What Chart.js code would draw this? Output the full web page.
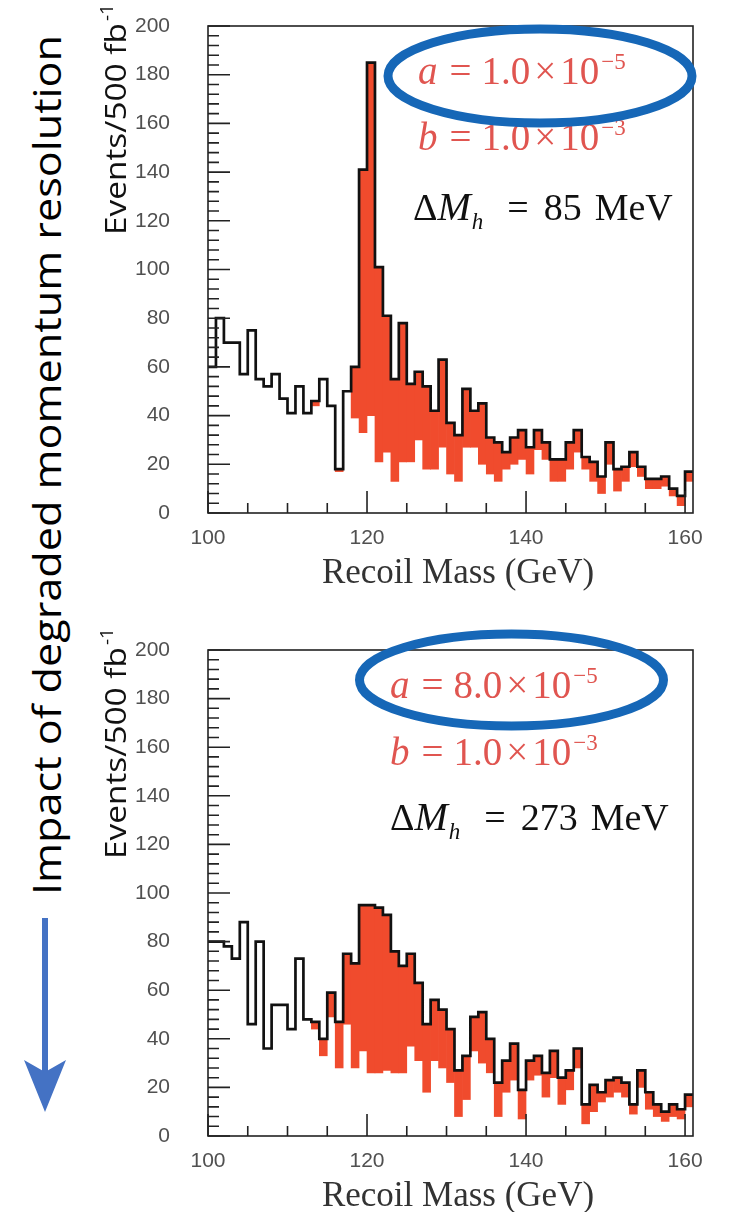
<!DOCTYPE html>
<html>
<head>
<meta charset="utf-8">
<script src="https://cdn.jsdelivr.net/npm/chart.js@4.4.1/dist/chart.umd.min.js"></script>
<style>
  body { margin: 0; background: #fff; }
  #page { position: relative; width: 733px; height: 1212px; overflow: hidden; }
  #page canvas { position: absolute; left: 0; }
  #top-chart { top: 0; }
  #bottom-chart { top: 612px; }
  #side { position: absolute; left: 0; top: 0; }
</style>
</head>
<body>
<div id="page">
  <svg id="side" width="110" height="1212">
    <text transform="translate(61,465) rotate(-90)" text-anchor="middle" font-family="Open Sans" font-size="39"
          textLength="860" lengthAdjust="spacingAndGlyphs" fill="#000">Impact of degraded momentum resolution</text>
    <line x1="45" y1="918" x2="45" y2="1076" stroke="#4472c4" stroke-width="6"/>
    <path d="M45 1112 L24 1060 L45 1072 L66 1060 Z" fill="#4472c4"/>
  </svg>
  <canvas id="top-chart" width="733" height="600"></canvas>
  <canvas id="bottom-chart" width="733" height="600"></canvas>
</div>

<script>
// lower edges of the 1 GeV recoil mass bins
const massBins = [
  100, 101, 102, 103, 104, 105, 106, 107, 108, 109,
  110, 111, 112, 113, 114, 115, 116, 117, 118, 119,
  120, 121, 122, 123, 124, 125, 126, 127, 128, 129,
  130, 131, 132, 133, 134, 135, 136, 137, 138, 139,
  140, 141, 142, 143, 144, 145, 146, 147, 148, 149,
  150, 151, 152, 153, 154, 155, 156, 157, 158, 159,
  160,
];
const binWidth = 1;

// a = 1.0e-5 : signal + background, and background alone
const totalTop = [
  60, 80, 70, 70, 57, 75, 55, 52, 57, 47,
  41, 52, 41, 46, 55, 44, 18, 50, 60, 141,
  185, 101, 81, 55, 78, 53, 58, 52, 42, 63,
  37, 32, 51, 42, 45, 31, 29, 25, 31, 34,
  27, 34, 29, 22, 22, 29, 34, 23, 21, 15,
  29, 18, 19, 25, 19, 14, 14, 15, 10, 7,
  17,
];
const bkgTop = [
  60, 80, 70, 70, 57, 75, 55, 52, 57, 47,
  41, 52, 41, 44, 55, 44, 17, 50, 39, 33,
  40, 21, 25, 13, 21, 21, 30, 18, 18, 27,
  16, 13, 27, 27, 20, 16, 13, 18, 20, 22,
  16, 26, 22, 13, 13, 18, 25, 18, 13, 8,
  20, 9, 13, 19, 15, 10, 10, 11, 7, 3,
  13,
];

// a = 8.0e-5
const totalBottom = [
  80, 80, 78, 73, 88, 46, 80, 36, 54, 54,
  44, 73, 48, 47, 40, 59, 47, 75, 71, 95,
  95, 94, 91, 76, 70, 75, 63, 46, 56, 52,
  44, 27, 33, 49, 51, 40, 22, 31, 38, 19,
  31, 33, 26, 35, 24, 27, 36, 13, 21, 18,
  23, 24, 22, 13, 27, 18, 13, 10, 13, 11,
  17,
];
const bkgBottom = [
  80, 80, 78, 73, 88, 46, 80, 36, 54, 54,
  44, 73, 48, 44, 33, 49, 28, 46, 28, 35,
  26, 26, 27, 26, 26, 37, 31, 18, 31, 28,
  22, 8, 15, 35, 30, 26, 8, 18, 23, 7,
  23, 25, 16, 24, 13, 19, 28, 5, 10, 14,
  16, 18, 16, 9, 20, 11, 8, 6, 8, 7,
  12,
];

const xTickValues = [100, 120, 140, 160];
const yTickValues = [0, 20, 40, 60, 80, 100, 120, 140, 160, 180, 200];

// resolution parameters printed on each panel
const aValues = ["1.0", "8.0"];
const aExponents = ["\u22125", "\u22125"];
const bValues = ["1.0", "1.0"];
const bExponents = ["\u22123", "\u22123"];
const massResolution = ["85", "273"]; // MeV

// placement of each panel inside its canvas (px, relative to the plot frame)
const panelLayout = [
  { padTop: 26, axisHeight: 87, textX: 210, dmX: 205, aBase: 58, bBase: 124, dmBase: 194,
    ringX: 332, ringY: 50, ringRx: 152, ringRy: 47 },
  { padTop: 38, axisHeight: 76, textX: 182, dmX: 182, aBase: 48, bBase: 115, dmBase: 180,
    ringX: 303.5, ringY: 30, ringRx: 152, ringRy: 46 },
];

const serif = '"Liberation Serif"';
const red = "#e05550";

function drawParts(ctx, x, y, parts) {
  for (const p of parts) {
    ctx.font = p.font;
    ctx.fillText(p.text, x, y - (p.rise || 0));
    x += ctx.measureText(p.text).width + (p.gap || 0);
  }
}

function fitText(ctx, text, x, y, width) {
  const w = ctx.measureText(text).width;
  ctx.save();
  ctx.translate(x, y);
  ctx.scale(width / w, 1);
  ctx.fillText(text, 0, 0);
  ctx.restore();
}

const panelPlugin = {
  id: "panel",
  afterDatasetsDraw(chart) {
    const { ctx, chartArea: area } = chart;
    const x = chart.scales.x;
    const y = chart.scales.y;
    ctx.save();
    ctx.strokeStyle = "#222";
    ctx.lineWidth = 1.6;
    ctx.strokeRect(area.left, area.top, area.right - area.left, area.bottom - area.top);

    // tick marks point into the frame
    ctx.beginPath();
    for (let v = 0; v <= 200; v += 4) {
      const py = y.getPixelForValue(v);
      const len = v % 20 === 0 ? 22 : 11;
      ctx.moveTo(area.left, py);
      ctx.lineTo(area.left + len, py);
    }
    for (let m = 100; m <= 160; m += 5) {
      const px = x.getPixelForValue(m);
      const len = m % 20 === 0 ? 22 : 10;
      ctx.moveTo(px, area.bottom);
      ctx.lineTo(px, area.bottom - len);
    }
    ctx.stroke();
    ctx.restore();
  },
  afterDraw(chart, args, opts) {
    const { ctx, chartArea: area } = chart;
    const i = opts.index;
    const lay = panelLayout[i];
    ctx.save();

    // axis titles
    ctx.fillStyle = "#333";
    ctx.textAlign = "center";
    ctx.textBaseline = "alphabetic";
    ctx.font = "35px " + serif;
    ctx.fillText("Recoil Mass (GeV)", area.left + 250, area.bottom + 70);

    ctx.save();
    ctx.fillStyle = "#111";
    ctx.translate(area.left - 82, area.top + 94);
    ctx.rotate(-Math.PI / 2);
    ctx.textAlign = "left";
    ctx.font = '30px "Open Sans"';
    fitText(ctx, "Events/500 fb", -115, 0, 212);
    ctx.font = '19px "Open Sans"';
    ctx.fillText("-1", 99, -13);
    ctx.restore();

    // parameter labels
    ctx.textAlign = "left";
    const big = "39px " + serif;
    const bigIt = "italic 39px " + serif;
    const small = "23px " + serif;
    const x0 = area.left + lay.textX;

    ctx.fillStyle = red;
    drawParts(ctx, x0, area.top + lay.aBase, [
      { text: "a", font: bigIt, gap: 12 },
      { text: "=", font: big, gap: 10 },
      { text: aValues[i], font: big, gap: 4 },
      { text: "\u00d7", font: big, gap: 4 },
      { text: "10", font: big, gap: 2 },
      { text: aExponents[i], font: small, rise: 15 },
    ]);
    drawParts(ctx, x0, area.top + lay.bBase, [
      { text: "b", font: bigIt, gap: 12 },
      { text: "=", font: big, gap: 10 },
      { text: bValues[i], font: big, gap: 4 },
      { text: "\u00d7", font: big, gap: 4 },
      { text: "10", font: big, gap: 2 },
      { text: bExponents[i], font: small, rise: 15 },
    ]);

    ctx.fillStyle = "#111";
    drawParts(ctx, area.left + lay.dmX, area.top + lay.dmBase, [
      { text: "\u0394", font: "38px " + serif, gap: 0 },
      { text: "M", font: "italic 40px " + serif, gap: 1 },
      { text: "h", font: "italic 23px " + serif, rise: -9, gap: 24 },
      { text: "=", font: "38px " + serif, gap: 15 },
      { text: massResolution[i], font: "38px " + serif, gap: 13 },
      { text: "MeV", font: "38px " + serif },
    ]);

    // ring around the a parameter
    ctx.strokeStyle = "#1667b7";
    ctx.lineWidth = 9;
    ctx.beginPath();
    ctx.ellipse(area.left + lay.ringX, area.top + lay.ringY, lay.ringRx, lay.ringRy, 0, 0, Math.PI * 2);
    ctx.stroke();
    ctx.restore();
  },
};

const tickFont = { family: '"Liberation Sans"', size: 21 };

function makeChart(canvasId, total, bkg, index) {
  const lay = panelLayout[index];

  // black outline of signal + background
  const outline = massBins.map((m, i) => ({ x: m, y: total[i] }));
  outline.push({ x: massBins[massBins.length - 1] + binWidth, y: total[total.length - 1] });

  // red part: signal sitting on top of the background
  const signal = massBins.map((m, i) => ({ x: m + binWidth / 2, y: [bkg[i], total[i]] }));

  return new Chart(document.getElementById(canvasId), {
    type: "bar",
    data: {
      datasets: [
        {
          type: "line",
          data: outline,
          stepped: true,
          borderColor: "#111",
          borderWidth: 2.7,
          pointRadius: 0,
          fill: false,
          order: 0,
        },
        {
          type: "bar",
          data: signal,
          backgroundColor: "#f04b2d",
          borderWidth: 0,
          barPercentage: 1,
          categoryPercentage: 1,
          order: 1,
        },
      ],
    },
    options: {
      responsive: false,
      animation: false,
      devicePixelRatio: 1,
      layout: { padding: { left: 0, right: 40, top: lay.padTop, bottom: 0 } },
      scales: {
        x: {
          type: "linear",
          min: 100,
          max: 161,
          offset: false,
          grid: { display: false },
          border: { display: false },
          ticks: { font: tickFont, color: "#505050", padding: 5, maxRotation: 0 },
          afterBuildTicks: (s) => { s.ticks = xTickValues.map((v) => ({ value: v })); },
          afterFit: (s) => {
            s.height = lay.axisHeight;
            s.paddingLeft = 0;
            s.paddingRight = 0;
          },
        },
        y: {
          min: 0,
          max: 200,
          grid: { display: false },
          border: { display: false },
          ticks: { font: tickFont, color: "#505050", padding: 30 },
          afterBuildTicks: (s) => { s.ticks = yTickValues.map((v) => ({ value: v })); },
          afterFit: (s) => {
            s.width = 208;
            s.paddingTop = 0;
            s.paddingBottom = 0;
          },
        },
      },
      plugins: {
        legend: { display: false },
        tooltip: { enabled: false },
        panel: { index: index },
      },
    },
    plugins: [panelPlugin],
  });
}

makeChart("top-chart", totalTop, bkgTop, 0);
makeChart("bottom-chart", totalBottom, bkgBottom, 1);
</script>
</body>
</html>
